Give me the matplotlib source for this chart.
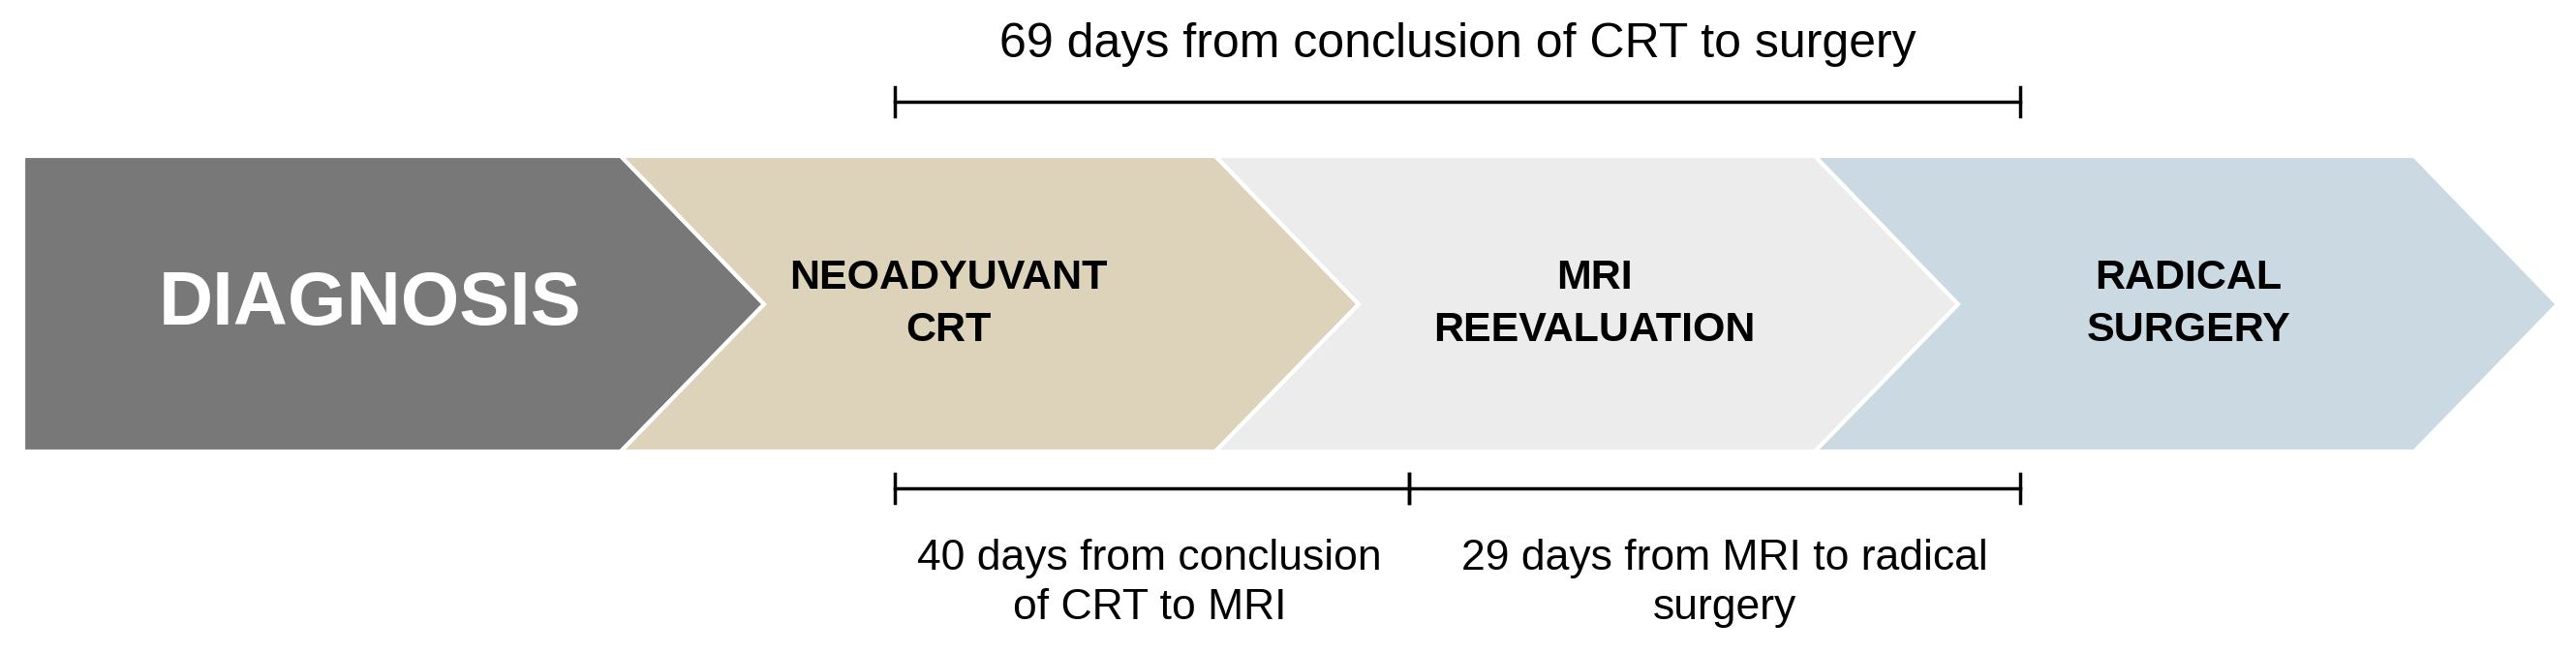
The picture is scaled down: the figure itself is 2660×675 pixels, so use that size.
import matplotlib
matplotlib.use("Agg")
import matplotlib.pyplot as plt
from matplotlib.patches import Polygon

stages = ["DIAGNOSIS", "NEOADYUVANT\nCRT", "MRI\nREEVALUATION", "RADICAL\nSURGERY"]
stage_colors = ["#787878", "#ddd3ba", "#ececec", "#cbdae2"]
text_colors = ["white", "black", "black", "black"]
top_label = "69 days from conclusion of CRT to surgery"
bottom_labels = ["40 days from conclusion\nof CRT to MRI", "29 days from MRI to radical\nsurgery"]

W, H = 2660, 675
fig = plt.figure(figsize=(W/100, H/100), dpi=100)
ax = fig.add_axes([0, 0, 1, 1])
ax.set_xlim(0, W); ax.set_ylim(H, 0); ax.axis("off")

y0, y1, ym = 161, 466, 314
lefts = [24, 641, 1255, 1874]
rights = [641, 1255, 1874, 2493]
depth = 148
text_x = [382, 979, 1646, 2260]
for i, s in enumerate(stages):
    L, R = lefts[i], rights[i]
    if i == 0:
        pts = [(L, y0), (R, y0), (R+depth, ym), (R, y1), (L, y1)]
    else:
        pts = [(L, y0), (R, y0), (R+depth, ym), (R, y1), (L, y1), (L+depth, ym)]
    ax.add_patch(Polygon(pts, closed=True, fc=stage_colors[i], ec="white", lw=3))
    ax.text(text_x[i], ym, s, ha="center", va="center", color=text_colors[i],
            fontsize=56 if i == 0 else 31, fontweight="bold", family="Liberation Sans",
            linespacing=1.45)

def bracket(xa, xb, y):
    ax.plot([xa, xb], [y, y], color="black", lw=2.5)
    for x in (xa, xb):
        ax.plot([x, x], [y-15, y+15], color="black", lw=2.5)

bracket(924, 2086, 105)
ax.text(1505, 46, top_label, ha="center", va="center", fontsize=36, family="Liberation Sans")
bracket(924, 1455, 504)
bracket(1455, 2086, 504)
ax.text(1187, 602, bottom_labels[0], ha="center", va="center", fontsize=32, family="Liberation Sans", linespacing=1.3)
ax.text(1781, 602, bottom_labels[1], ha="center", va="center", fontsize=32, family="Liberation Sans", linespacing=1.3)

fig.savefig("out.png", dpi=100)
